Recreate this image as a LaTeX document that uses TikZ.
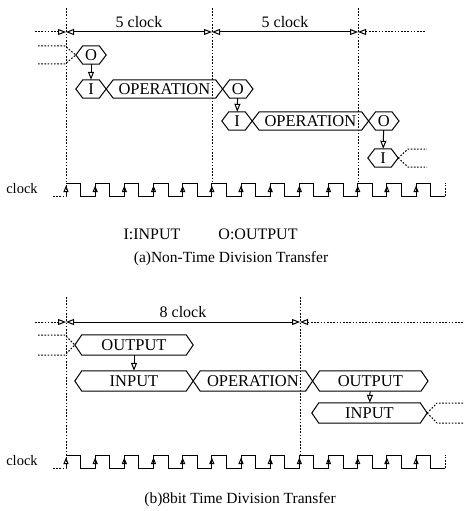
\documentclass[tikz,border=0pt]{standalone}
\usepackage{fontspec}
\setmainfont{Liberation Serif}
\usetikzlibrary{arrows.meta,positioning}

% hexagon drawn round a bus node
\newcommand{\hexa}[1]{%
  \draw[sig] (#1.west) -- ([xshift=7pt]#1.north west) -- ([xshift=-7pt]#1.north east)
    -- (#1.east) -- ([xshift=-7pt]#1.south east) -- ([xshift=7pt]#1.south west) -- cycle;}

% clock train, #1 = y of the high level
\newcommand{\clocktrain}[1]{%
  \draw[guide] (53,#1+13) -- (66,#1+13) -- (66,#1);
  \draw[sig] (66,#1) \foreach \k in {1,...,12}{ -- ++(14.6,0) -- ++(0,13) -- ++(14.57,0) -- ++(0,-13)}
    -- ++(14.6,0) -- ++(0,13) -- ++(14.57,0) coordinate (ckend);
  \draw[guide] (ckend) -- ++(0,-13);
  \foreach \k in {0,...,12}
    \draw[sig,-{Triangle[open,length=6.5pt,width=5pt]}] (66+\k*29.17,#1+13) -- ++(0,-10.5);}

\begin{document}
\begin{tikzpicture}[x=1pt, y=-1pt,
    >={Triangle[open,length=8pt,width=6pt]},
    sig/.style={line width=1pt},
    guide/.style={line width=1pt, dash pattern=on 1.6pt off 1.6pt},
    bus/.style={minimum height=18pt, inner sep=0pt, font=\fontsize{16.5}{19}\selectfont},
    lbl/.style={font=\fontsize{16}{19}\selectfont}]

\useasboundingbox (0,0) rectangle (463,511);

%%%%% (a) non-time division

% guide lines
\coordinate (ga) at (66,8);
\coordinate (gb) at (212,8);
\coordinate (gc) at (358,8);
\foreach \g in {ga,gb,gc}
  \draw[guide] (\g) -- (\g |- 0,183);

% 5 clock spans
\coordinate (da) at (66,32);
\coordinate (db) at (212,32);
\coordinate (dc) at (358,32);
\draw[guide,->] (35,32) -- (da);
\draw[sig,<->] (da) -- (db) node[lbl, midway, above=1pt] {5 clock};
\draw[sig,<->] (db) -- (dc) node[lbl, midway, above=1pt] {5 clock};
\draw[guide,<-] (dc) -- (425,32);

% first output
\node[bus, minimum width=30pt] (o1) at (91,55) {O}; \hexa{o1}
\draw[guide] (38,46) -- (65,46) -- (o1.west);
\draw[guide] (38,64) -- (65,64) -- (o1.west);

% second row
\node[bus, minimum width=30pt] (i2) at (91,89) {I}; \hexa{i2}
\node[bus, minimum width=116pt, right=0pt of i2] (op2) {OPERATION}; \hexa{op2}
\node[bus, minimum width=30pt, right=0pt of op2] (o2) {O}; \hexa{o2}
\draw[sig,->] (o1) -- (i2);

% third row
\node[bus, minimum width=30pt] (i3) at (237,121) {I}; \hexa{i3}
\node[bus, minimum width=116pt, right=0pt of i3] (op3) {OPERATION}; \hexa{op3}
\node[bus, minimum width=30pt, right=0pt of op3] (o3) {O}; \hexa{o3}
\draw[sig,->] (o2) -- (i3);

% fourth row
\node[bus, minimum width=30pt] (i4) at (383,158) {I}; \hexa{i4}
\draw[sig,->] (o3) -- (i4);
\draw[guide] (i4.east) -- (408,149) -- (427,149);
\draw[guide] (i4.east) -- (408,167) -- (427,167);

% clock
\node[font=\fontsize{14.5}{17}\selectfont] (cka) at (22,189) {clock};
\clocktrain{183}

\node[lbl] (key1) at (152,234) {I:INPUT};
\node[lbl] (key2) at (258,234) {O:OUTPUT};
\node[font=\fontsize{15.5}{18}\selectfont] (capa) at (231,259) {(a)Non-Time Division Transfer};

%%%%% (b) 8bit time division

\coordinate (gd) at (66,297);
\coordinate (ge) at (300,297);
\foreach \g in {gd,ge}
  \draw[guide] (\g) -- (\g |- 0,455);

% 8 clock span
\coordinate (dd) at (66,322);
\coordinate (de) at (300,322);
\draw[guide,->] (35,322) -- (dd);
\draw[sig,<->] (dd) -- (de) node[lbl, midway, above=1pt] {8 clock};
\draw[guide,<-] (de) -- (463,322);

% first output
\node[bus, minimum height=20pt, minimum width=118pt] (out1) at (134,345) {OUTPUT}; \hexa{out1}
\draw[guide] (38,335) -- (65,335) -- (out1.west);
\draw[guide] (38,355) -- (65,355) -- (out1.west);

% second row
\node[bus, minimum height=20pt, minimum width=118pt] (in2) at (134,381) {INPUT}; \hexa{in2}
\node[bus, minimum height=20pt, minimum width=119pt, right=0pt of in2] (op5) {OPERATION}; \hexa{op5}
\node[bus, minimum height=20pt, minimum width=115pt, right=0pt of op5] (out2) {OUTPUT}; \hexa{out2}
\draw[sig,->] (out1) -- (in2);

% third row
\node[bus, minimum height=20pt, minimum width=115pt] (in3) at (369.5,413) {INPUT}; \hexa{in3}
\draw[sig,->] (out2) -- (in3);
\draw[guide] (in3.east) -- (437,403) -- (463,403);
\draw[guide] (in3.east) -- (437,423) -- (463,423);

% clock
\node[font=\fontsize{14.5}{17}\selectfont] (ckb) at (22,461) {clock};
\clocktrain{455}

\node[font=\fontsize{15.5}{18}\selectfont] (capb) at (240,500) {(b)8bit Time Division Transfer};

\end{tikzpicture}
\end{document}
